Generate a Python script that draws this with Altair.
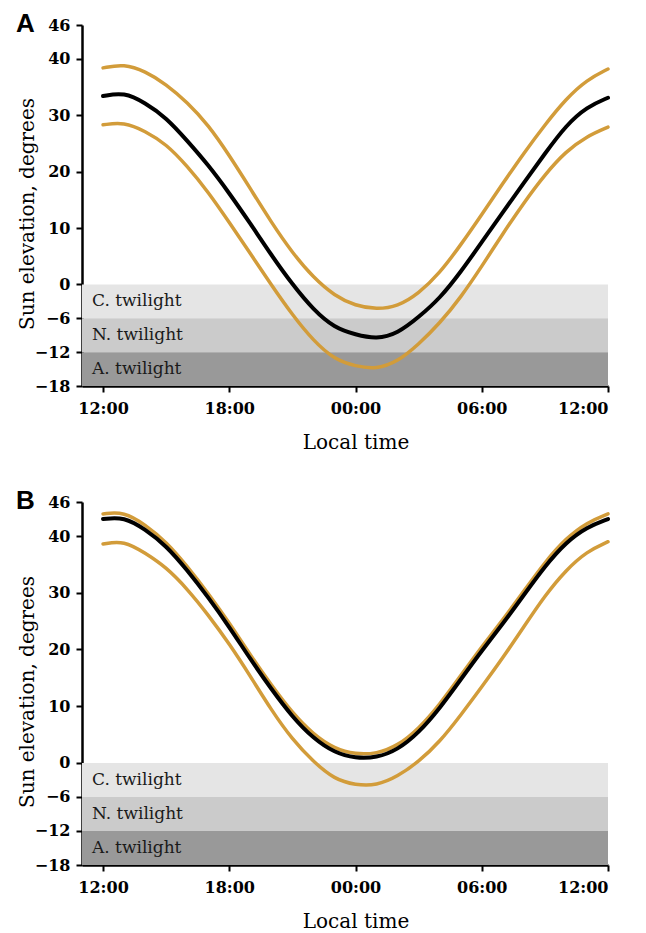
import altair as alt
import pandas as pd

# ---------------- data ----------------
hours = list(range(25))  # hours after 12:00 local time

a_mean = [33.4, 34.1, 32.2, 29.6, 25.5, 21.2, 16.2, 10.8, 5.2, 0.0, -4.5, -7.7, -8.9,
          -9.7, -8.7, -5.8, -2.5, 2.2, 7.5, 12.8, 18.0, 23.2, 28.2, 31.5, 33.1]
a_upper = [38.4, 39.1, 37.8, 35.5, 32.3, 28.3, 22.9, 17.0, 11.0, 5.6, 1.2, -2.0, -3.8,
           -4.4, -3.9, -1.6, 2.0, 7.0, 12.4, 17.9, 23.3, 28.3, 32.9, 36.3, 38.2]
a_lower = [28.3, 28.8, 27.2, 24.9, 21.0, 16.4, 11.0, 5.5, -0.1, -5.4, -10.0, -13.3, -14.5,
           -15.0, -13.7, -10.6, -6.9, -2.3, 3.2, 9.0, 14.5, 19.5, 23.6, 26.3, 27.9]

b_mean = [43.0, 43.4, 41.2, 38.3, 34.0, 29.2, 24.0, 18.3, 13.0, 8.1, 4.3, 1.8, 0.8,
          0.9, 2.3, 5.3, 9.6, 14.7, 19.8, 24.5, 29.6, 34.7, 38.9, 41.6, 43.0]
b_upper = [43.9, 44.3, 42.0, 39.0, 34.7, 29.9, 24.7, 19.0, 13.7, 8.8, 5.0, 2.5, 1.5,
           1.6, 3.0, 6.0, 10.3, 15.4, 20.5, 25.2, 30.3, 35.4, 39.6, 42.4, 43.9]
b_lower = [38.6, 39.2, 37.0, 34.5, 30.7, 26.1, 21.0, 15.3, 9.3, 4.1, 0.2, -2.9, -3.9,
           -4.0, -2.4, 0.2, 3.7, 8.4, 13.4, 18.5, 24.0, 29.5, 34.0, 37.3, 39.0]

band_labels = ["C. twilight", "N. twilight", "A. twilight"]
band_top = [0, -6, -12]
band_bottom = [-6, -12, -18]

x_tick_values = [0, 6, 12, 18, 24]
x_tick_labels = ["12:00", "18:00", "00:00", "06:00", "12:00"]
y_tick_values = [-18, -12, -6, 0, 10, 20, 30, 40, 46]

# ---------------- styling ----------------
W = 526
ORANGE = "#D29C3A"
BAND_COLORS = ["#E5E5E5", "#CBCBCB", "#999999"]
SERIF = "DejaVu Serif"

label_expr = " : ".join(
    f"datum.value == {v} ? '{l}'" for v, l in zip(x_tick_values, x_tick_labels)
) + " : ''"

x_scale = alt.Scale(domain=[-1, 24], nice=False, zero=False)
y_scale = alt.Scale(domain=[-18, 46], nice=False, zero=False)
x_axis = alt.Axis(values=x_tick_values, labelExpr=label_expr, title="Local time",
                  titleX=W * 13 / 25, titleAnchor="middle", titlePadding=16)
x_enc = alt.X("hour:Q", scale=x_scale, axis=x_axis)

bands_df = pd.DataFrame({
    "band": band_labels,
    "elev": band_top,
    "elev2": band_bottom,
    "mid": [(t + b) / 2 for t, b in zip(band_top, band_bottom)],
})


def panel(letter, mean, upper, lower, height):
    y_axis = alt.Axis(values=y_tick_values, title="Sun elevation, degrees",
                      titlePadding=-3, titleY=height / 2 + 8)

    def yq(field):
        return alt.Y(field, type="quantitative", scale=y_scale, axis=y_axis)

    orange_df = pd.DataFrame({
        "hour": hours + hours,
        "elev": upper + lower,
        "series": ["upper"] * len(hours) + ["lower"] * len(hours),
    })
    mean_df = pd.DataFrame({"hour": hours, "elev": mean})

    rects = alt.Chart(bands_df).mark_rect().encode(
        x=alt.value(0), x2=alt.value(W),
        y=yq("elev"),
        y2="elev2:Q",
        color=alt.Color("band:N", scale=alt.Scale(domain=band_labels, range=BAND_COLORS), legend=None),
    )
    band_text = alt.Chart(bands_df).mark_text(
        align="left", baseline="middle", font=SERIF, fontSize=17, color="#1a1a1a"
    ).encode(
        x=alt.value(10),
        y=yq("mid"),
        text="band:N",
    )
    orange = alt.Chart(orange_df).mark_line(
        interpolate="basis", color=ORANGE, strokeWidth=3.5, strokeCap="round"
    ).encode(x=x_enc, y=yq("elev"), detail="series:N")
    black = alt.Chart(mean_df).mark_line(
        interpolate="basis", color="black", strokeWidth=4, strokeCap="round"
    ).encode(x=x_enc, y=yq("elev"))
    tag = alt.Chart(pd.DataFrame({"t": [letter]})).mark_text(
        align="left", baseline="alphabetic", font="Liberation Sans", fontWeight="bold",
        fontSize=26, color="black"
    ).encode(text="t:N", x=alt.value(-66), y=alt.value(7))

    return alt.layer(rects, band_text, orange, black, tag).resolve_scale(
        color="independent"
    ).properties(width=W, height=height)


chart = alt.vconcat(
    panel("A", a_mean, a_upper, a_lower, 361),
    panel("B", b_mean, b_upper, b_lower, 363),
    spacing=36,
).configure_view(stroke=None).configure_axis(
    grid=False,
    domainColor="black", domainWidth=2.5,
    tickColor="black", tickWidth=2, tickSize=6,
    labelFont=SERIF, labelFontSize=16, labelFontWeight="bold", labelColor="black",
    labelPadding=6,
    titleFont=SERIF, titleFontSize=20, titleFontWeight="normal", titleColor="black",
).configure_axisX(labelPadding=8).properties(padding={"left": 8, "top": 3, "right": 5, "bottom": 3})

chart.save("out.html", embed_options={"renderer": "svg", "actions": False})
